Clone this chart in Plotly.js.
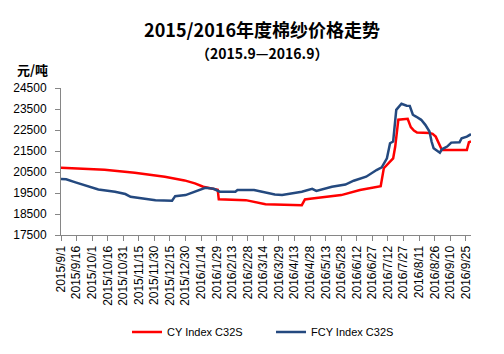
<!DOCTYPE html>
<html>
<head>
<meta charset="utf-8">
<script src="https://cdn.plot.ly/plotly-3.0.1.min.js"></script>
<style>html,body{margin:0;padding:0;background:#fff;}#chart{width:504px;height:354px;}</style>
</head>
<body>
<div id="chart"></div>
<script>
const cyDates = ['2015-09-01','2015-10-13','2015-11-11','2015-12-10','2015-12-29','2016-01-08','2016-01-16','2016-01-21','2016-01-27','2016-01-30','2016-01-31','2016-02-26','2016-03-16','2016-04-20','2016-04-23','2016-04-28','2016-05-28','2016-06-15','2016-07-05','2016-07-08','2016-07-14','2016-07-17','2016-07-19','2016-07-21','2016-07-22','2016-07-31','2016-08-03','2016-08-06','2016-08-09','2016-08-21','2016-08-24','2016-08-27','2016-08-30','2016-09-02','2016-09-26','2016-09-28','2016-09-30'];
const cyValues = [20700,20610,20465,20275,20100,19960,19800,19750,19700,19650,19200,19160,18970,18920,19195,19230,19400,19640,19820,20680,20990,21150,21710,22665,22990,23030,22635,22475,22380,22360,22315,22185,21870,21550,21550,21920,21950];

const fcyDates = ['2015-09-01','2015-09-06','2015-09-15','2015-09-29','2015-10-07','2015-10-23','2015-11-02','2015-11-07','2015-12-01','2015-12-17','2015-12-20','2015-12-30','2016-01-16','2016-01-18','2016-01-26','2016-02-01','2016-02-16','2016-02-18','2016-03-05','2016-03-25','2016-04-01','2016-04-20','2016-04-30','2016-05-04','2016-05-19','2016-06-01','2016-06-09','2016-06-21','2016-07-01','2016-07-06','2016-07-11','2016-07-14','2016-07-17','2016-07-20','2016-07-25','2016-07-30','2016-08-02','2016-08-05','2016-08-08','2016-08-13','2016-08-17','2016-08-21','2016-08-23','2016-08-25','2016-08-31','2016-09-02','2016-09-07','2016-09-11','2016-09-19','2016-09-21','2016-09-26','2016-09-30'];
const fcyValues = [20165,20150,20005,19797,19670,19560,19450,19320,19160,19130,19350,19400,19720,19750,19700,19560,19560,19640,19640,19430,19410,19560,19700,19600,19800,19900,20085,20275,20595,20720,21150,21870,21950,23460,23750,23655,23650,23225,23140,22985,22745,22425,21950,21630,21420,21580,21710,21900,21920,22110,22185,22300];

const seriesNames = ['CY Index C32S', 'FCY Index C32S'];
const titleText = '2015/2016年度棉纱价格走势';
const subtitleText = '（2015.9—2016.9）';
const unitText = '元/吨';

const traces = [
  {x: cyDates, y: cyValues, name: seriesNames[0], type: 'scatter', mode: 'lines',
   line: {color: '#FF0000', width: 2.5}},
  {x: fcyDates, y: fcyValues, name: seriesNames[1], type: 'scatter', mode: 'lines',
   line: {color: '#24497F', width: 2.5}}
];

const cjk = '"Noto Sans CJK SC", "Liberation Sans", sans-serif';
const layout = {
  width: 504, height: 354,
  margin: {l: 61, r: 33, t: 88, b: 119, pad: 0, autoexpand: false},
  paper_bgcolor: '#fff', plot_bgcolor: '#fff',
  showlegend: true,
  font: {family: '"Liberation Sans", Arial, sans-serif', size: 12, color: '#000'},
  title: {text: '<b>' + titleText + '</b>', font: {family: cjk, size: 18, color: '#000'},
          xref: 'container', yref: 'container', x: 0.52, xanchor: 'center', y: 1 - 31/354, yanchor: 'middle'},
  xaxis: {
    type: 'date', range: ['2015-09-01', '2016-09-30'],
    tick0: '2015-09-01', dtick: 15*86400000, tickformat: '%Y/%-m/%-d',
    tickangle: -90, ticks: 'outside', ticklen: 5, tickcolor: '#868686',
    showline: true, linecolor: '#868686', linewidth: 1, showgrid: false, zeroline: false,
    tickfont: {size: 12, color: '#000'}
  },
  yaxis: {
    range: [17500, 24500], tick0: 17500, dtick: 1000, tickformat: 'd',
    ticks: 'outside', ticklen: 5, tickcolor: '#868686', ticklabelstandoff: 6,
    showline: true, linecolor: '#868686', linewidth: 1, showgrid: false, zeroline: false,
    tickfont: {size: 12, color: '#000'}
  },
  legend: {orientation: 'h', xref: 'container', yref: 'container', x: 0.252, xanchor: 'left', y: 1 - 332/354, yanchor: 'middle',
           font: {size: 11, color: '#000'}, itemwidth: 30, tracegroupgap: 0,
           entrywidth: 99, entrywidthmode: 'pixels'},
  annotations: [
    {text: '<b>' + subtitleText + '</b>', xref: 'paper', yref: 'paper', x: 0.4906, y: 1.241,
     xanchor: 'center', yanchor: 'middle', showarrow: false, font: {family: cjk, size: 14, color: '#000'}},
    {text: '<b>' + unitText + '</b>', xref: 'paper', yref: 'paper', x: -0.113, y: 1.125,
     xanchor: 'left', yanchor: 'middle', showarrow: false, font: {family: cjk, size: 13, color: '#000'}}
  ]
};

Plotly.newPlot('chart', traces, layout, {displayModeBar: false, staticPlot: true});
</script>
</body>
</html>
